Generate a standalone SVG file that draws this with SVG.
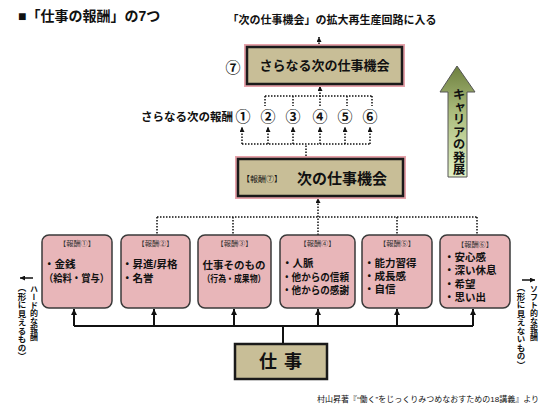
<svg xmlns="http://www.w3.org/2000/svg" width="550" height="412" viewBox="0 0 550 412">
<style>
.t{font-family:"Liberation Sans","Noto Sans CJK JP",sans-serif;fill:#111}
.b{font-weight:bold}
.m{text-anchor:middle}
.e{text-anchor:end}
.dot{stroke:#111;stroke-width:1.5;stroke-dasharray:1.5 1.5;fill:none}
.sol{stroke:#111;stroke-width:2;fill:none}
.pink{fill:#e8b6b9;stroke:#3a3a3a;stroke-width:1.5}
.tan{fill:#c8be97;stroke:#1a1a1a;stroke-width:2.5}
.glow{fill:none;stroke:#e6a2aa;stroke-width:6}
.lbl{font-size:7px;fill:#333}
.in{font-size:10.5px;font-weight:bold}
.v{writing-mode:vertical-rl}
.num{font-size:15px;font-weight:bold}
</style>
<defs>
<marker id="ah" viewBox="0 0 6 6" refX="6" refY="3" markerWidth="5" markerHeight="5" markerUnits="userSpaceOnUse" orient="auto"><path d="M0,0 L6,3 L0,6 z" fill="#111"/></marker>
<marker id="ah2" viewBox="0 0 6 6" refX="6" refY="3" markerWidth="6" markerHeight="6" markerUnits="userSpaceOnUse" orient="auto"><path d="M0,0 L6,3 L0,6 z" fill="#111"/></marker>
<linearGradient id="grn" x1="0" y1="0" x2="0" y2="1">
<stop offset="0" stop-color="#6d7f3e"/>
<stop offset="0.4" stop-color="#a9ba7a"/>
<stop offset="1" stop-color="#e3f2c6"/>
</linearGradient>
</defs>

<text class="t b" x="18" y="21" font-size="14">■「仕事の報酬」の7つ</text>
<text class="t b m" x="332" y="24" font-size="11">「次の仕事機会」の拡大再生産回路に入る</text>

<g id="connectors">
<path class="dot" d="M319,47 V37" marker-end="url(#ah)"/>
<path class="dot" d="M320,106 V86" marker-end="url(#ah)"/>
<path class="dot" d="M265,96 H372 M265,96 V106 M293,96 V106 M347,96 V106 M372,96 V106"/>
<path class="dot" d="M306,159 V144 M242,144 H371"/>
<path class="dot" d="M242,144 V127" marker-end="url(#ah)"/>
<path class="dot" d="M268,144 V127" marker-end="url(#ah)"/>
<path class="dot" d="M293,144 V127" marker-end="url(#ah)"/>
<path class="dot" d="M320,144 V127" marker-end="url(#ah)"/>
<path class="dot" d="M345,144 V127" marker-end="url(#ah)"/>
<path class="dot" d="M370,144 V127" marker-end="url(#ah)"/>
<path class="dot" d="M318,235 V198" marker-end="url(#ah)"/>
<path class="dot" d="M157,217 H477 M157,217 V235 M233,217 V235 M397,217 V235 M477,217 V235"/>
<path class="sol" d="M283,344 V326 M74,326 H473"/>
<path class="sol" d="M74,326 V309" marker-end="url(#ah2)"/>
<path class="sol" d="M154,326 V309" marker-end="url(#ah2)"/>
<path class="sol" d="M234,326 V309" marker-end="url(#ah2)"/>
<path class="sol" d="M318,326 V309" marker-end="url(#ah2)"/>
<path class="sol" d="M397,326 V309" marker-end="url(#ah2)"/>
<path class="sol" d="M473,326 V309" marker-end="url(#ah2)"/>
<path d="M33,278 H20" stroke="#111" stroke-width="1.5" marker-end="url(#ah)"/>
<path d="M522,280 H535" stroke="#111" stroke-width="1.5" marker-end="url(#ah)"/>
</g>

<g id="node-top">
<rect class="glow" x="247" y="47" width="155" height="37"/>
<rect class="tan" x="247" y="47" width="155" height="37"/>
<text class="t b m" x="324.5" y="70" font-size="13">さらなる次の仕事機会</text>
<text class="t m num" x="233" y="73">⑦</text>
</g>

<g id="node-next-rewards">
<text class="t b e" x="233" y="121" font-size="11.5">さらなる次の報酬</text>
<text class="t m num" x="243" y="122">①</text>
<text class="t m num" x="268" y="122">②</text>
<text class="t m num" x="293" y="122">③</text>
<text class="t m num" x="320" y="122">④</text>
<text class="t m num" x="345" y="122">⑤</text>
<text class="t m num" x="370" y="122">⑥</text>
</g>

<g id="node-career">
<path d="M457,66 L475,92 L467,92 L467,177 L448,177 L448,92 L440,92 Z" fill="url(#grn)" stroke="#555" stroke-width="1"/>
<text class="t b v" x="457.5" y="88" font-size="12.5">キャリアの発展</text>
</g>

<g id="node-reward7">
<rect class="glow" x="238" y="159" width="165" height="37"/>
<rect class="tan" x="238" y="159" width="165" height="37"/>
<text class="t" x="242" y="182" font-size="8" fill="#333">【報酬⑦】</text>
<text class="t b" x="297" y="184" font-size="15">次の仕事機会</text>
</g>

<g id="node-r1">
<rect class="pink" x="42" y="235" width="70" height="73" rx="7"/>
<text class="t lbl m" x="77" y="246" textLength="36" lengthAdjust="spacingAndGlyphs">【報酬①】</text>
<text class="t in" x="44" y="268" font-size="11.5">・金銭</text>
<text class="t in" x="44" y="282" textLength="65" lengthAdjust="spacingAndGlyphs">（給料・賞与）</text>
</g>

<g id="node-r2">
<rect class="pink" x="121" y="235" width="69" height="73" rx="7"/>
<text class="t lbl m" x="155.5" y="246" textLength="36" lengthAdjust="spacingAndGlyphs">【報酬②】</text>
<text class="t in" x="122" y="268">・昇進/昇格</text>
<text class="t in" x="122" y="282">・名誉</text>
</g>

<g id="node-r3">
<rect class="pink" x="198" y="235" width="73" height="73" rx="7"/>
<text class="t lbl m" x="234.5" y="246" textLength="36" lengthAdjust="spacingAndGlyphs">【報酬③】</text>
<text class="t in m" x="234" y="268.5" font-size="11">仕事そのもの</text>
<text class="t b m" x="234" y="282" font-size="9.5" textLength="63" lengthAdjust="spacingAndGlyphs">（行為・成果物）</text>
</g>

<g id="node-r4">
<rect class="pink" x="280" y="235" width="75" height="73" rx="7"/>
<text class="t lbl m" x="317.5" y="246" textLength="36" lengthAdjust="spacingAndGlyphs">【報酬④】</text>
<text class="t in" x="282" y="267">・人脈</text>
<text class="t in" x="282" y="281" textLength="67" lengthAdjust="spacingAndGlyphs">・他からの信頼</text>
<text class="t in" x="282" y="294" textLength="67" lengthAdjust="spacingAndGlyphs">・他からの感謝</text>
</g>

<g id="node-r5">
<rect class="pink" x="362" y="235" width="70" height="73" rx="7"/>
<text class="t lbl m" x="397" y="246" textLength="36" lengthAdjust="spacingAndGlyphs">【報酬⑤】</text>
<text class="t in" x="364" y="267">・能力習得</text>
<text class="t in" x="364" y="280">・成長感</text>
<text class="t in" x="364" y="293">・自信</text>
</g>

<g id="node-r6">
<rect class="pink" x="440" y="235" width="70" height="73" rx="7"/>
<text class="t lbl m" x="475" y="247" textLength="36" lengthAdjust="spacingAndGlyphs">【報酬⑥】</text>
<text class="t in" x="444" y="261">・安心感</text>
<text class="t in" x="444" y="274">・深い休息</text>
<text class="t in" x="444" y="288">・希望</text>
<text class="t in" x="444" y="301">・思い出</text>
</g>

<g id="node-work">
<rect class="tan" x="235" y="344" width="92" height="35"/>
<text class="t b" x="259" y="368" font-size="18" letter-spacing="7">仕事</text>
</g>

<g id="label-hard">
<text class="t b v" x="33" y="285" font-size="8">ハード的な報酬</text>
<text class="t b v" x="21" y="284" font-size="8.5">（形に見えるもの）</text>
</g>
<g id="label-soft">
<text class="t b v" x="533" y="285" font-size="8">ソフト的な報酬</text>
<text class="t b v" x="520" y="284" font-size="8.5">（形に見えないもの）</text>
</g>

<text class="t e" x="539" y="402" font-size="8" fill="#444">村山昇著『“働く”をじっくりみつめなおすための18講義』より</text>
</svg>
